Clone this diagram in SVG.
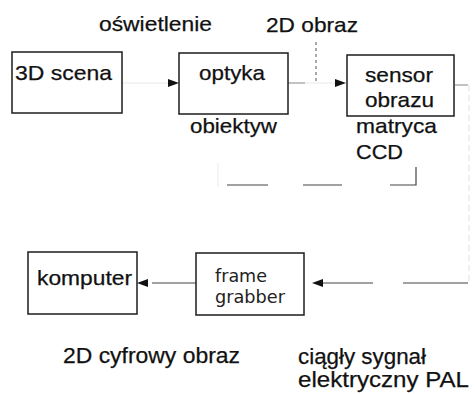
<svg xmlns="http://www.w3.org/2000/svg" width="475" height="394" viewBox="0 0 475 394">
<style>
.box{fill:#fff;stroke:#1c1c1c;stroke-width:1.5}
.t{font-family:"Liberation Sans",Arial,sans-serif;font-size:21px;fill:#111;stroke:#111;stroke-width:0.25}
.tb{font-family:"Liberation Sans",Arial,sans-serif;font-size:22px;fill:#111;stroke:#111;stroke-width:0.25}
.tg{font-family:"DejaVu Sans","Liberation Sans",sans-serif;font-size:18px;fill:#222}
.ln{fill:none;stroke:#444;stroke-width:1.2}
.lt{fill:none;stroke:#999;stroke-width:1.2}
.lf{fill:none;stroke:#e8e8e8;stroke-width:1}
.ld{fill:none;stroke:#555;stroke-width:1;stroke-dasharray:3,3}
</style>
<defs>
<marker id="ah" viewBox="0 0 11 8" refX="11" refY="4" markerWidth="11" markerHeight="8" markerUnits="userSpaceOnUse" orient="auto">
<path d="M0,0 L11,4 L0,8 z" fill="#111"/>
</marker>
</defs>
<rect width="475" height="394" fill="#fff"/>
<g id="connectors">
<path class="lf" d="M122,83 H168"/>
<path style="fill:none;stroke:none" d="M168,83 H179" marker-end="url(#ah)"/>
<path class="lt" d="M288,83 H305"/>
<path class="ld" d="M316,42 V83"/>
<path class="lf" d="M305,83 H335"/>
<path style="fill:none;stroke:none" d="M335,83 H346" marker-end="url(#ah)"/>
<path class="lt" d="M455,85 H468"/>
<path style="fill:none;stroke:#e0e0e0;stroke-width:1;stroke-dasharray:6,4" d="M469,85 V283"/>
<path class="ln" d="M468,283 H403"/>
<path class="ln" d="M373,283 H322"/>
<path style="fill:none;stroke:none" d="M322,283 H312" marker-end="url(#ah)"/>
<path class="ln" d="M196,283 H152"/>
<path style="fill:none;stroke:none" d="M152,283 H137" marker-end="url(#ah)"/>
<path class="ln" d="M227,185 H268 M303,185 H342 M390,185 H416 V167"/>
<path style="fill:none;stroke:#ececec;stroke-width:1" d="M218,163 V187"/>
</g>
<g id="scena3d">
<rect class="box" x="12" y="52" width="110" height="61"/>
<text class="t" x="15" y="80" textLength="97" lengthAdjust="spacingAndGlyphs">3D scena</text>
</g>
<g id="optyka">
<rect class="box" x="179" y="53" width="109" height="61"/>
<text class="t" x="199" y="80" textLength="66" lengthAdjust="spacingAndGlyphs">optyka</text>
</g>
<g id="sensor">
<rect class="box" x="347" y="55" width="107" height="61"/>
<text class="t" x="365" y="82" textLength="68" lengthAdjust="spacingAndGlyphs">sensor</text>
<text class="t" x="365" y="107" textLength="69" lengthAdjust="spacingAndGlyphs">obrazu</text>
</g>
<g id="komputer">
<rect class="box" x="28" y="252" width="109" height="62"/>
<text class="t" x="37" y="285" textLength="95" lengthAdjust="spacingAndGlyphs">komputer</text>
</g>
<g id="framegrabber">
<rect class="box" x="196" y="253" width="108" height="62"/>
<text class="tg" x="215" y="282" textLength="52" lengthAdjust="spacingAndGlyphs">frame</text>
<text class="tg" x="215" y="303" textLength="70" lengthAdjust="spacingAndGlyphs">grabber</text>
</g>
<g id="labels">
<text class="t" x="99" y="31" textLength="113" lengthAdjust="spacingAndGlyphs">oświetlenie</text>
<text class="t" x="266" y="32" textLength="92" lengthAdjust="spacingAndGlyphs">2D obraz</text>
<text class="t" x="190" y="133" textLength="87" lengthAdjust="spacingAndGlyphs">obiektyw</text>
<text class="t" x="356" y="133" textLength="81" lengthAdjust="spacingAndGlyphs">matryca</text>
<text class="t" x="356" y="159" textLength="47" lengthAdjust="spacingAndGlyphs">CCD</text>
<text class="tb" x="63" y="363" textLength="177" lengthAdjust="spacingAndGlyphs">2D cyfrowy obraz</text>
<text class="tb" x="298" y="364" textLength="128" lengthAdjust="spacingAndGlyphs">ciągły sygnał</text>
<text class="tb" x="298" y="387" textLength="171" lengthAdjust="spacingAndGlyphs">elektryczny PAL</text>
</g>
</svg>
